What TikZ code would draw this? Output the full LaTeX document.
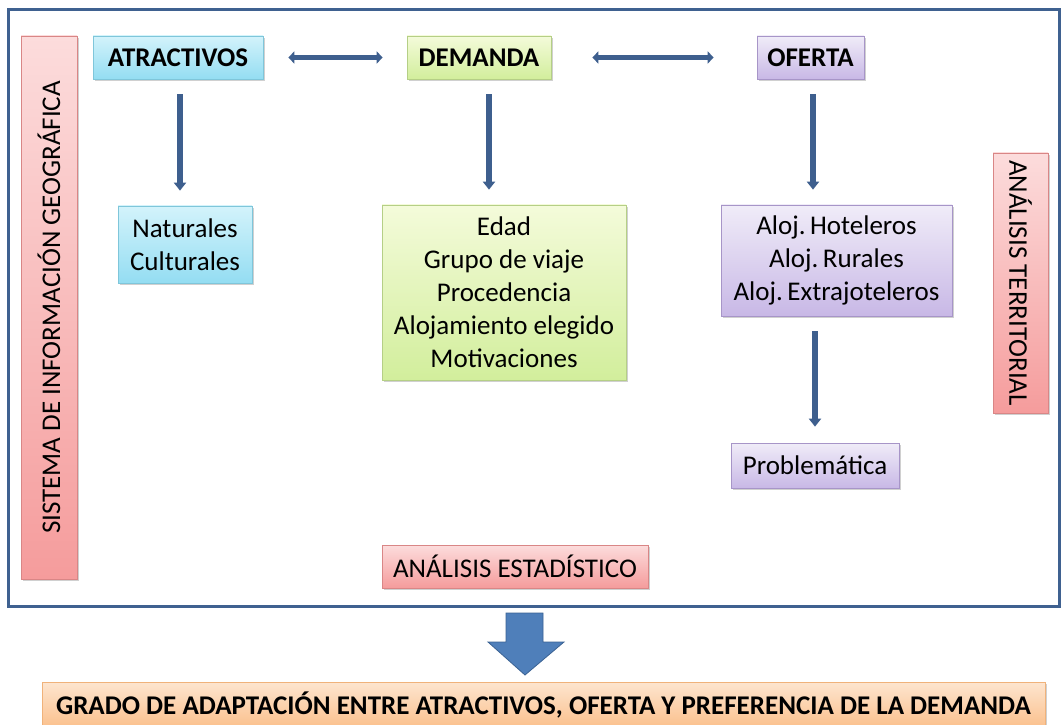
\documentclass[tikz,border=0pt]{standalone}
\usepackage{fontspec}
\setmainfont{Carlito}
\usetikzlibrary{arrows.meta,shadows}
\definecolor{framec}{HTML}{3F6190}
\definecolor{arrc}{HTML}{3E5F8E}
\definecolor{cyanT}{HTML}{D3F3FB}
\definecolor{cyanB}{HTML}{94DDF2}
\definecolor{cyanD}{HTML}{7FC6DA}
\definecolor{grnT}{HTML}{F4FBDA}
\definecolor{grnB}{HTML}{D2EE9C}
\definecolor{grnD}{HTML}{B5CF86}
\definecolor{purT}{HTML}{F0ECF8}
\definecolor{purB}{HTML}{C8B8E6}
\definecolor{purD}{HTML}{A795C8}
\definecolor{redT}{HTML}{FCDCDC}
\definecolor{redB}{HTML}{F59C9C}
\definecolor{redD}{HTML}{D98686}
\definecolor{orT}{HTML}{FDE5CF}
\definecolor{orB}{HTML}{FBC08C}
\definecolor{orD}{HTML}{F0B27A}
\definecolor{blkarr}{HTML}{4F7FBA}
\definecolor{blkarrD}{HTML}{3A6293}
\tikzset{
  box/.style={draw, line width=0.7pt, inner sep=0pt, align=center,
    font=\fontsize{27}{33}\selectfont,
    drop shadow={shadow xshift=1.5pt, shadow yshift=-2pt, opacity=0.3, fill=black!60}},
  cyanbox/.style={box, top color=cyanT, bottom color=cyanB, draw=cyanD},
  grnbox/.style={box, top color=grnT, bottom color=grnB, draw=grnD},
  purbox/.style={box, top color=purT, bottom color=purB, draw=purD},
  redbox/.style={box, top color=redT, bottom color=redB, draw=redD},
  orbox/.style={box, top color=orT, bottom color=orB, draw=orD},
  hdr/.style={font=\fontsize{27}{32}\selectfont\bfseries},
  downarr/.style={line width=5.5pt, draw=arrc, -{Triangle[width=12pt,length=8pt]}},
  dblarr/.style={line width=5.5pt, draw=arrc, {Triangle[width=12pt,length=6pt]}-{Triangle[width=12pt,length=6pt]}}
}
\begin{document}
\begin{tikzpicture}[x=1pt,y=1pt]
\useasboundingbox (0,0) rectangle (1063,724);
\fill[white] (0,0) rectangle (1063,724);
% frame
\node[draw=framec, line width=3pt, minimum width=1051pt, minimum height=596pt, inner sep=0pt] (frame) at (533.5,416) {};
% side boxes
\node[redbox, minimum width=56pt, minimum height=543pt] (sig) at (49,416.5)
  {\rotatebox{90}{SISTEMA DE INFORMACIÓN GEOGRÁFICA}};
\node[redbox, minimum width=55pt, minimum height=260pt] (at) at (1020.5,441)
  {\rotatebox{-90}{ANÁLISIS TERRITORIAL}};
\node[redbox, minimum width=266pt, minimum height=43pt] (ae) at (515,157.5) {ANÁLISIS ESTADÍSTICO};
% headers
\node[cyanbox, hdr, minimum width=170pt, minimum height=43pt] (atr) at (178,666.5) {ATRACTIVOS};
\node[grnbox, hdr, minimum width=144pt, minimum height=43pt] (dem) at (479,666.5) {DEMANDA};
\node[purbox, hdr, minimum width=107pt, minimum height=43pt] (ofe) at (810.5,666.5) {OFERTA};
% detail boxes
\node[cyanbox, minimum width=134pt, minimum height=77pt] (nat) at (185,479.5) {Naturales\\Culturales};
\node[grnbox, minimum width=244pt, minimum height=175pt] (dbox) at (504,431.5)
  {Edad\\Grupo de viaje\\Procedencia\\Alojamiento elegido\\Motivaciones};
\node[purbox, minimum width=231pt, minimum height=111pt] (obox) at (836.5,463.5)
  {Aloj.\,Hoteleros\\Aloj.\,Rurales\\Aloj.\,Extrajoteleros};
\node[purbox, minimum width=168pt, minimum height=45pt] (prob) at (815,258.5) {Problemática};
% banner
\node[orbox, font=\fontsize{27}{32}\selectfont\bfseries, minimum width=1003pt, minimum height=46pt] (ban) at (543.5,19)
  {GRADO DE ADAPTACIÓN ENTRE ATRACTIVOS, OFERTA Y PREFERENCIA DE LA DEMANDA};
% connectors
\draw[dblarr, shorten <=25pt, shorten >=24pt] (atr.east) -- (dem.west);
\draw[dblarr, shorten <=41pt, shorten >=43pt] (dem.east) -- (ofe.west);
\draw[downarr, shorten <=15pt, shorten >=15pt] ([xshift=2pt]atr.south) -- ([xshift=2pt]atr.south |- nat.north);
\draw[downarr, shorten <=15pt, shorten >=15pt] ([xshift=10pt]dem.south) -- ([xshift=10pt]dem.south |- dbox.north);
\draw[downarr, shorten <=15pt, shorten >=15pt] ([xshift=2.5pt]ofe.south) -- ([xshift=2.5pt]ofe.south |- obox.north);
\draw[downarr, shorten <=15pt, shorten >=16pt] (obox.south -| prob.north) -- (prob.north);
% block arrow
\draw[fill=blkarr, draw=blkarrD, line width=0.8pt, line join=miter]
  (506,111) -- (506,82) -- (488,82) -- (525,49) -- (564,82) -- (543,82) -- (543,111) -- cycle;
\end{tikzpicture}
\end{document}
